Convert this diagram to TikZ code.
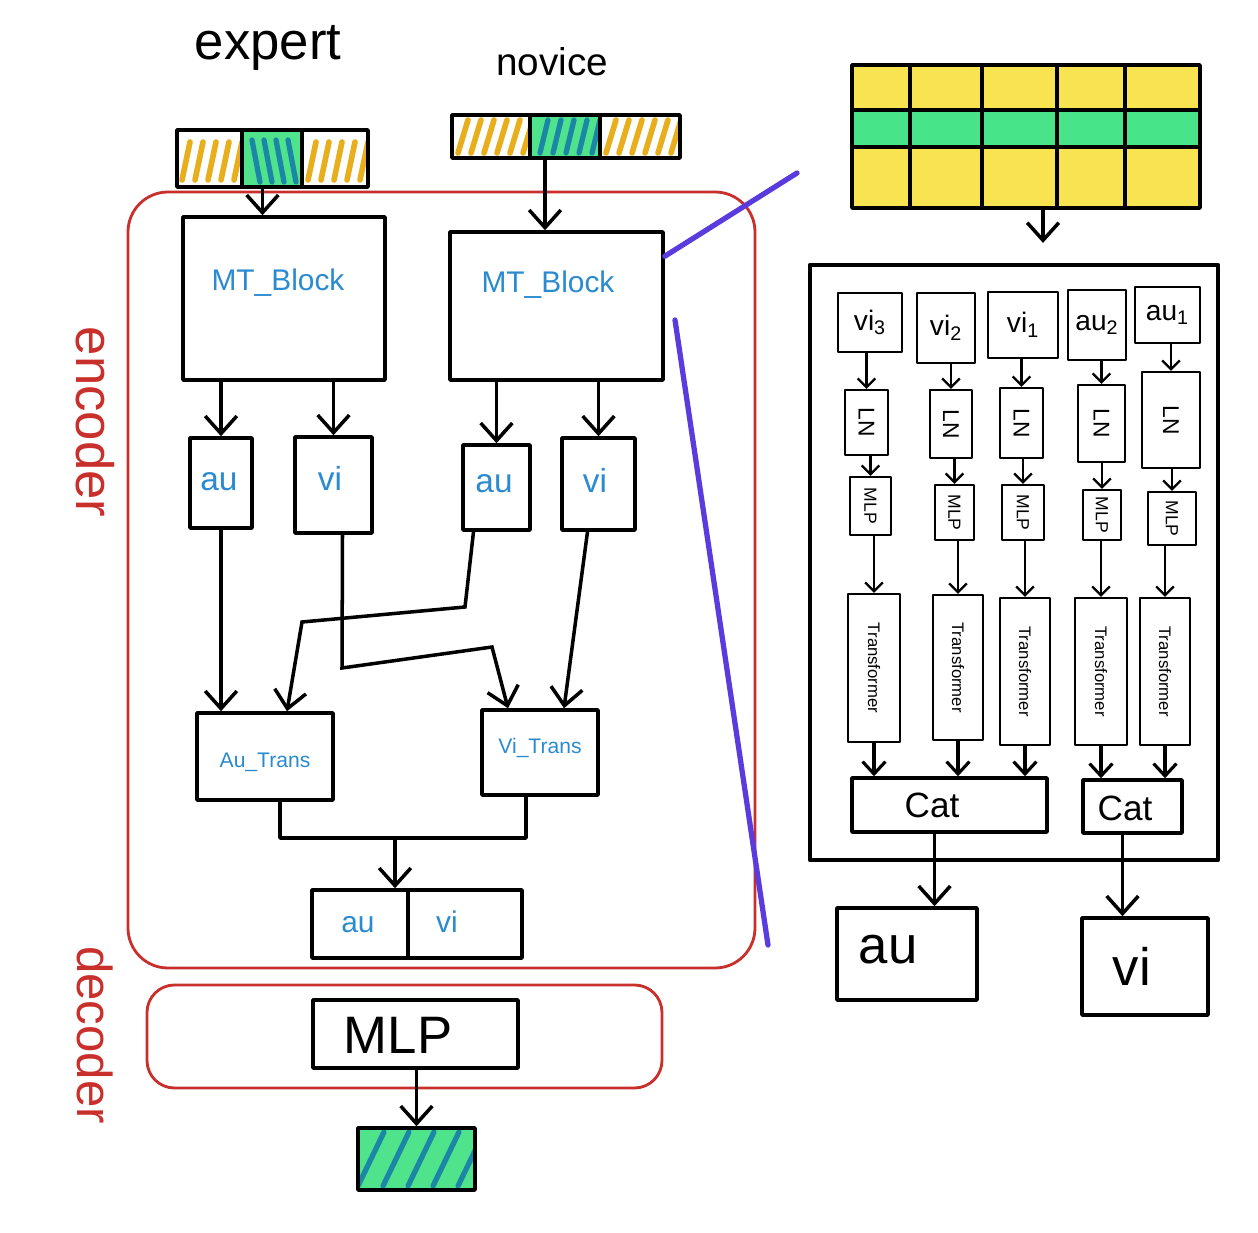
\documentclass[tikz,border=0pt]{standalone}
\usepackage{fontspec}
\setmainfont{Liberation Sans}
\usetikzlibrary{arrows.meta,fit,calc}
\definecolor{hblue}{HTML}{2A8BD0}
\definecolor{encred}{HTML}{C9302C}
\definecolor{vio}{HTML}{5A3BDD}
\definecolor{hyel}{HTML}{E9AE1C}
\definecolor{hgreen}{HTML}{4FE38C}
\definecolor{hteal}{HTML}{1B86A6}
\definecolor{gyel}{HTML}{F8E450}
\definecolor{ggreen}{HTML}{48E48A}
\newcommand{\fs}[1]{\fontsize{#1}{#1}\selectfont}
\begin{document}
\begin{tikzpicture}[x=0.02cm,y=-0.02cm,
  ink/.style={draw=black,line width=2pt,line join=round,inner sep=0pt},
  thinink/.style={draw=black,line width=1.4pt,line join=round,inner sep=0pt},
  arr/.style={draw=black,line width=2pt,line cap=round,-{Straight Barb[length=10pt,width=18pt,line width=2pt]}},
  marr/.style={draw=black,line width=1.8pt,line cap=round,-{Straight Barb[length=7pt,width=13pt,line width=1.8pt]}},
  sarr/.style={draw=black,line width=1.3pt,line cap=round,-{Straight Barb[length=5pt,width=10pt,line width=1.3pt]}},
  redbox/.style={draw=encred,line width=1.6pt,inner sep=0pt},
  yh/.style={draw=hyel,line width=3.2pt,line cap=round},
  th/.style={draw=hteal,line width=3pt,line cap=round},
  vline/.style={draw=vio,line width=3pt,line cap=round},
  bt/.style={text=hblue,inner sep=0pt},
  kt/.style={text=black,inner sep=0pt},
]
\useasboundingbox[fill=white] (0,0) rectangle (1258,1233);

% ---------- titles ----------
\node[font=\fs{30}] (expert) at (268,48) {expert};
\node[font=\fs{22}] (novice) at (552,62) {novice};

% ---------- expert bar ----------
\fill[hgreen] (242,130) rectangle (302,187);
\begin{scope}
  \clip (177,130) rectangle (242,187);
  \foreach \x in {182,195,...,240} {\draw[yh] (\x,180) -- (\x+8,142);}
\end{scope}
\begin{scope}
  \clip (242,130) rectangle (302,187);
  \foreach \x in {252,264,276,288} {\draw[th] (\x,140) -- (\x+8,182);}
\end{scope}
\begin{scope}
  \clip (302,130) rectangle (368,187);
  \foreach \x in {308,321,...,366} {\draw[yh] (\x,180) -- (\x+8,142);}
\end{scope}
\node[ink, fit={(177,130) (368,187)}] (ebar) {};
\draw[ink] (242,130) -- (242,187) (302,130) -- (302,187);

% ---------- novice bar ----------
\fill[hgreen] (530,115) rectangle (600,158);
\begin{scope}
  \clip (452,115) rectangle (530,158);
  \foreach \x in {458,471,...,528} {\draw[yh] (\x,153) -- (\x+10,120);}
\end{scope}
\begin{scope}
  \clip (530,115) rectangle (600,158);
  \foreach \x in {540,553,...,592} {\draw[th] (\x,153) -- (\x+8,120);}
\end{scope}
\begin{scope}
  \clip (600,115) rectangle (680,158);
  \foreach \x in {606,619,...,676} {\draw[yh] (\x,153) -- (\x+10,120);}
\end{scope}
\node[ink, fit={(452,115) (680,158)}] (nbar) {};
\draw[ink] (530,115) -- (530,158) (600,115) -- (600,158);

% ---------- encoder / decoder frames ----------
\node[redbox, rounded corners=0.8cm, fit={(128,192) (755,968)}] (enc) {};
\node[text=encred, rotate=-90, font=\fs{30}] (enclbl) at (95,422) {encoder};
\node[redbox, rounded corners=0.55cm, fit={(147,985) (662,1088)}] (dec) {};
\node[text=encred, rotate=-90, font=\fs{28}] (declbl) at (95,1035) {decoder};

% ---------- MT blocks ----------
\node[ink, fit={(183,217) (385,380)}] (mt1) {};
\node[bt, font=\fs{17}] (mt1t) at (278,283) {MT\_Block};
\node[ink, fit={(450,232) (663,380)}] (mt2) {};
\node[bt, font=\fs{17}] (mt2t) at (548,285) {MT\_Block};

\coordinate (ea) at ([xshift=-0.2cm]ebar.south);
\draw[arr] (ea) -- (ea |- mt1.north);
\coordinate (na) at ([xshift=-0.42cm]nbar.south);
\draw[arr] (na) -- (na |- mt2.north);

% ---------- au / vi boxes ----------
\node[ink, fit={(190,438) (252,528)}] (au1) {};
\node[ink, fit={(295,437) (372,533)}] (vi1) {};
\node[ink, fit={(463,445) (530,530)}] (au2) {};
\node[ink, fit={(562,438) (635,530)}] (vi2) {};
\node[bt, font=\fs{19}] (au1t) at (219,482) {au};
\node[bt, font=\fs{19}] (vi1t) at (330,478) {vi};
\node[bt, font=\fs{19}] (au2t) at (494,484) {au};
\node[bt, font=\fs{19}] (vi2t) at (595,480) {vi};

\draw[arr] (au1.north |- mt1.south) -- (au1.north);
\draw[arr] (vi1.north |- mt1.south) -- (vi1.north);
\draw[arr] (au2.north |- mt2.south) -- (au2.north);
\draw[arr] (vi2.north |- mt2.south) -- (vi2.north);

% ---------- trans boxes ----------
\node[ink, fit={(197,713) (333,800)}] (autr) {};
\node[ink, fit={(482,710) (598,795)}] (vitr) {};
\node[bt, font=\fs{12}] (autrt) at (265,762) {Au\_Trans};
\node[bt, font=\fs{12}] (vitrt) at (540,748) {Vi\_Trans};

\draw[arr] (au1.south) -- (au1.south |- autr.north);
\coordinate (a2s) at ($(au2.south)+(-23,0)$);
\coordinate (a2e) at ($(autr.north)+(22,0)$);
\draw[arr] (a2s) -- (465,607) -- (302,622) -- (a2e);
\coordinate (v1s) at ($(vi1.south)+(9,0)$);
\coordinate (v1e) at ($(vitr.north)+(-32,0)$);
\draw[arr] (v1s) -- (342,668) -- (492,647) -- (v1e);
\coordinate (v2s) at ($(vi2.south)+(-11,0)$);
\coordinate (v2e) at ($(vitr.north)+(24,0)$);
\draw[arr] (v2s) -- (v2e);

% ---------- merge and concat ----------
\coordinate (merge) at (395,838);
\coordinate (ats) at ($(autr.south)+(15,0)$);
\coordinate (vts) at ($(vitr.south)+(-14,0)$);
\draw[ink] (ats) |- (merge) -| (vts);
\node[ink, fit={(312,890) (522,958)}] (cc) {};
\draw[ink] (408,890) -- (408,958);
\node[bt, font=\fs{17}] (cca) at (358,925) {au};
\node[bt, font=\fs{17}] (ccv) at (447,922) {vi};
\draw[arr] (merge) -- (merge |- cc.north);

% ---------- decoder MLP and output ----------
\node[ink, fit={(313,1000) (518,1068)}] (mlp) {};
\node[kt, font=\fs{30}] (mlpt) at (398,1035) {MLP};
\fill[hgreen] (358,1128) rectangle (475,1190);
\begin{scope}
  \clip (358,1128) rectangle (475,1190);
  \foreach \x in {358,383,...,460} {\draw[th] (\x,1186) -- (\x+26,1132);}
\end{scope}
\node[ink, fit={(358,1128) (475,1190)}] (outp) {};
\draw[arr] (outp.north |- mlp.south) -- (outp.north);

% ---------- violet zoom lines ----------
\coordinate (vioA) at ($(mt2.north east)+(0,26)$);
\coordinate (vioB) at (797,173);
\draw[vline] (vioA) -- (vioB);
\coordinate (vioC) at (675,320);
\coordinate (vioD) at (768,945);
\draw[vline] (vioC) -- (vioD);

% ---------- right: grid ----------
\fill[gyel] (852,65) rectangle (1200,110);
\fill[ggreen] (852,110) rectangle (1200,147);
\fill[gyel] (852,147) rectangle (1200,208);
\node[ink, fit={(852,65) (1200,208)}] (grid) {};
\draw[ink] (910,65) -- (910,208) (982,65) -- (982,208) (1057,65) -- (1057,208) (1125,65) -- (1125,208)
           (852,110) -- (1200,110) (852,147) -- (1200,147);

\node[ink, line width=2.4pt, fit={(810,265) (1218,860)}] (big) {};
\coordinate (gs) at ($(grid.south)+(17,0)$);
\draw[arr, shorten >=0.4cm] (gs) -- (gs |- big.north);

% ---------- right: columns ----------
\foreach \i/\a/\b/\c/\d/\t in {1/838/293/902/352/vi\textsubscript{3}, 2/917/293/975/363/vi\textsubscript{2}, 3/988/292/1058/358/vi\textsubscript{1}, 4/1068/290/1126/360/au\textsubscript{2}, 5/1135/287/1200/343/au\textsubscript{1}} {
  \node[thinink, fit={(\a,\b) (\c,\d)}] (in\i) {};
  \node[kt, font=\fs{16}] (in\i t) at (in\i) {\t};
}
\foreach \i/\a/\b/\c/\d in {1/845/390/888/455, 2/930/390/972/458, 3/1000/388/1043/458, 4/1078/385/1125/462, 5/1142/372/1200/468} {
  \node[thinink, fit={(\a,\b) (\c,\d)}] (ln\i) {};
  \node[kt, rotate=-90, font=\fs{13}] (ln\i t) at (ln\i) {LN};
}
\foreach \i/\a/\b/\c/\d in {1/850/477/891/535, 2/935/485/974/540, 3/1002/485/1044/540, 4/1083/490/1121/540, 5/1148/492/1196/545} {
  \node[thinink, fit={(\a,\b) (\c,\d)}] (ml\i) {};
  \node[kt, rotate=-90, font=\fs{10}] (ml\i t) at (ml\i) {MLP};
}
\foreach \i/\a/\b/\c/\d in {1/848/594/900/742, 2/933/595/983/740, 3/1000/598/1050/745, 4/1075/598/1127/745, 5/1140/598/1190/745} {
  \node[thinink, fit={(\a,\b) (\c,\d)}] (tr\i) {};
  \node[kt, rotate=-90, font=\fs{9.5}] (tr\i t) at (tr\i) {Transformer};
}
\foreach \i in {1,...,5} {
  \draw[sarr] (ln\i.north |- in\i.south) -- (ln\i.north);
  \draw[sarr] (ml\i.north |- ln\i.south) -- (ml\i.north);
  \draw[sarr] (tr\i.north |- ml\i.south) -- (tr\i.north);
}

\node[ink, fit={(852,778) (1047,832)}] (cat1) {};
\node[ink, fit={(1083,780) (1182,833)}] (cat2) {};
\node[kt, font=\fs{20}] (cat1t) at (932,805) {Cat};
\node[kt, font=\fs{20}] (cat2t) at (1125,808) {Cat};
\foreach \i/\c in {1/cat1,2/cat1,3/cat1,4/cat2,5/cat2} {
  \draw[marr] (tr\i.south) -- (tr\i.south |- \c.north);
}

% ---------- right: outputs ----------
\node[ink, fit={(837,908) (977,1000)}] (oau) {};
\node[ink, fit={(1082,918) (1208,1015)}] (ovi) {};
\node[kt, font=\fs{30}] (oaut) at (888,950) {au};
\node[kt, font=\fs{30}] (ovit) at (1132,966) {vi};
\coordinate (c1s) at ($(cat1.south)+(-15,0)$);
\draw[arr] (c1s) -- (c1s |- oau.north);
\coordinate (c2s) at ($(cat2.south)+(-10,0)$);
\draw[arr] (c2s) -- (c2s |- ovi.north);
\end{tikzpicture}
\end{document}
